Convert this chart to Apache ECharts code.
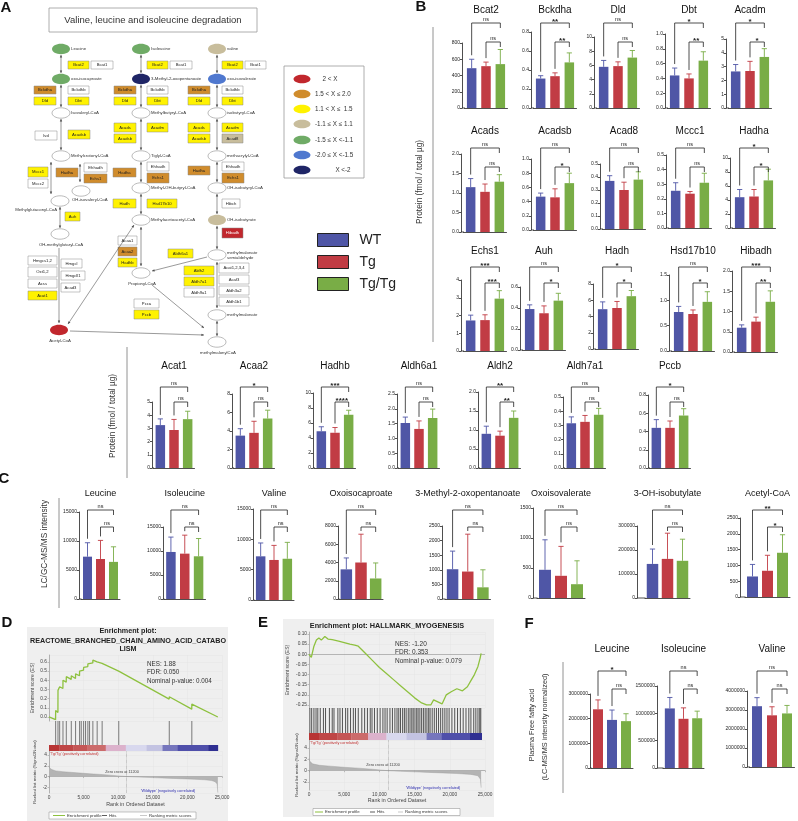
<!DOCTYPE html>
<html><head><meta charset="utf-8">
<script src="https://cdn.jsdelivr.net/npm/echarts@6/dist/echarts.min.js"></script>
<style>html,body{margin:0;padding:0;background:#fff}#c{width:798px;height:821px}</style>
</head><body><div id="c"></div>
<script>
// ================= DATA =================
const groups = ['WT', 'Tg', 'Tg/Tg'];

// Panel B, row 1
const b1Genes = ['Bcat2', 'Bckdha', 'Dld', 'Dbt', 'Acadm'];
const b1Mean = [[490, 515, 540], [0.31, 0.335, 0.48], [5.8, 5.9, 7.1], [0.44, 0.40, 0.64], [2.65, 2.68, 3.7]];
const b1Sd = [[110, 50, 180], [0.03, 0.035, 0.10], [0.9, 0.6, 1.0], [0.10, 0.06, 0.12], [0.5, 0.7, 0.6]];
const b1Max = [800, 0.8, 10, 1.0, 5];
const b1Step = [200, 0.2, 2, 0.2, 1];
const b1Sig = [['ns', 'ns'], ['**', '**'], ['ns', 'ns'], ['*', '**'], ['*', '*']];

// Panel B, row 2
const b2Genes = ['Acads', 'Acadsb', 'Acad8', 'Mccc1', 'Hadha'];
const b2Mean = [[1.15, 1.03, 1.29], [0.47, 0.46, 0.66], [0.37, 0.30, 0.38], [0.255, 0.235, 0.31], [4.4, 4.5, 6.8]];
const b2Sd = [[0.22, 0.2, 0.18], [0.05, 0.12, 0.14], [0.04, 0.06, 0.06], [0.055, 0.015, 0.065], [1.1, 1.0, 1.6]];
const b2Max = [2.0, 1.0, 0.5, 0.5, 10];
const b2Step = [0.5, 0.2, 0.1, 0.1, 2];
const b2Sig = [['ns', 'ns'], ['ns', '*'], ['ns', 'ns'], ['ns', 'ns'], ['*', '*']];

// Panel B, row 3
const b3Genes = ['Echs1', 'Auh', 'Hadh', 'Hsd17b10', 'Hibadh'];
const b3Mean = [[1.72, 1.74, 2.95], [0.39, 0.35, 0.47], [4.9, 5.05, 6.5], [0.77, 0.73, 0.97], [0.60, 0.75, 1.24]];
const b3Sd = [[0.3, 0.3, 0.45], [0.04, 0.07, 0.07], [0.9, 0.8, 0.7], [0.11, 0.08, 0.20], [0.07, 0.11, 0.27]];
const b3Max = [4, 0.6, 8, 1.5, 2.0];
const b3Step = [1, 0.2, 2, 0.5, 0.5];
const b3Sig = [['***', '***'], ['ns', '*'], ['*', '*'], ['ns', '*'], ['***', '**']];

// Panel B, row 4
const b4Genes = ['Acat1', 'Acaa2', 'Hadhb', 'Aldh6a1', 'Aldh2', 'Aldh7a1', 'Pccb'];
const b4Mean = [[3.25, 2.88, 3.7], [3.5, 3.8, 5.35], [4.9, 4.7, 7.1], [1.52, 1.32, 1.69], [0.9, 0.85, 1.32], [0.315, 0.325, 0.375], [0.44, 0.44, 0.575]];
const b4Sd = [[0.47, 0.8, 0.6], [0.75, 1.25, 0.9], [0.6, 0.7, 0.6], [0.2, 0.27, 0.3], [0.2, 0.12, 0.18], [0.045, 0.045, 0.045], [0.09, 0.075, 0.075]];
const b4Max = [5, 8, 10, 2.5, 2.0, 0.5, 0.8];
const b4Step = [1, 2, 2, 0.5, 0.5, 0.1, 0.2];
const b4Sig = [['ns', 'ns'], ['*', 'ns'], ['***', '****'], ['ns', 'ns'], ['**', '**'], ['ns', 'ns'], ['*', 'ns']];

// Panel C
const cNames = ['Leucine', 'Isoleucine', 'Valine', 'Oxoisocaproate', '3-Methyl-2-oxopentanoate', 'Oxoisovalerate', '3-OH-isobutylate', 'Acetyl-CoA'];
const cMean = [[7300, 6900, 6400], [9800, 9450, 8900], [7200, 6600, 6800], [3250, 4000, 2250], [1020, 940, 400], [470, 370, 230], [142000, 163000, 155000], [650, 830, 1400]];
const cSd = [[2400, 3200, 2600], [3100, 3850, 3700], [2200, 2400, 2700], [1250, 3100, 1700], [620, 1280, 600], [500, 490, 390], [62000, 107000, 90000], [380, 490, 570]];
const cMax = [15000, 15000, 15000, 8000, 2500, 1500, 300000, 2500];
const cStep = [5000, 5000, 5000, 2000, 500, 500, 100000, 500];
const cSig = [['ns', 'ns'], ['ns', 'ns'], ['ns', 'ns'], ['ns', 'ns'], ['ns', 'ns'], ['ns', 'ns'], ['ns', 'ns'], ['**', '*']];

// Panel F
const fNames = ['Leucine', 'Isoleucine', 'Valine'];
const fOrder = [['Tg', 'WT', 'Tg/Tg'], ['WT', 'Tg', 'Tg/Tg'], ['WT', 'Tg', 'Tg/Tg']];
const fMean = [[2380000, 1950000, 1900000], [1090000, 900000, 910000], [3200000, 2720000, 2820000]];
const fSd = [[380000, 400000, 300000], [200000, 200000, 130000], [450000, 450000, 420000]];
const fMax = [3000000, 1500000, 4000000];
const fStep = [1000000, 500000, 1000000];
const fSig = [['*', 'ns'], ['ns', 'ns'], ['ns', 'ns']];

// Panel D (GSEA)
const dEs = [[0, 0], [950, -0.03], [960, 0.07], [1290, 0.05], [1300, 0.29], [1530, 0.28], [1540, 0.33], [2010, 0.31], [2020, 0.40], [2490, 0.38], [2500, 0.44], [3210, 0.41], [3220, 0.45], [3830, 0.42], [3840, 0.47], [4410, 0.45], [4420, 0.50], [4650, 0.49], [4660, 0.52], [4990, 0.51], [5000, 0.54], [5270, 0.53], [5280, 0.56], [5610, 0.55], [5620, 0.58], [5850, 0.57], [5860, 0.60], [6330, 0.59], [6340, 0.62], [6950, 0.60], [6960, 0.61], [7670, 0.585], [7680, 0.595], [10070, 0.50], [10080, 0.505], [17370, 0.195], [17380, 0.22], [20630, 0.085], [20640, 0.14], [24400, 0.0]];
const dHits = [960, 1300, 1540, 2020, 2500, 3220, 3840, 4420, 4660, 5000, 5280, 5620, 5860, 6340, 6960, 7680, 10080, 17380, 20640];
const dMetric = [[0, 2.0], [100, 1.6], [400, 1.3], [1000, 1.05], [2000, 0.9], [4000, 0.7], [6000, 0.5], [8000, 0.35], [10000, 0.12], [11200, 0], [13000, -0.1], [15000, -0.2], [17000, -0.3], [19000, -0.4], [21000, -0.5], [22500, -0.6], [23500, -0.75], [24000, -0.95], [24300, -1.4], [24400, -3.0]];
const dStats = ['NES: 1.88', 'FDR: 0.050', 'Nominal p-value: 0.004'];

// Panel E (GSEA)
const eEs = [[0, 0], [330, -0.015], [700, 0.04], [1050, 0.07], [1400, 0.08], [1750, 0.07], [2250, 0.088], [2700, 0.075], [3300, 0.072], [4200, 0.065], [5000, 0.058], [5800, 0.05], [6500, 0.045], [7000, 0.04], [8000, 0.005], [9000, -0.03], [10000, -0.065], [11000, -0.095], [12000, -0.125], [13000, -0.155], [14000, -0.185], [15000, -0.215], [16000, -0.24], [16700, -0.25], [17300, -0.25], [17700, -0.225], [18300, -0.235], [18900, -0.245], [19500, -0.2], [20200, -0.185], [21000, -0.17], [21800, -0.18], [22500, -0.16], [23000, -0.13], [23500, -0.1], [24000, -0.06], [24300, -0.02], [24450, 0.005]];
const eHits = [120, 380, 700, 1000, 1250, 1600, 2050, 2350, 2900, 3300, 3550, 4100, 4400, 4750, 5200, 5500, 5900, 6300, 6600, 7000, 7500, 7900, 8300, 8700, 8950, 9300, 9700, 10100, 10500, 10800, 11100, 11500, 11850, 12200, 12500, 12750, 13000, 13300, 13550, 13800, 14100, 14350, 14600, 14800, 15050, 15300, 15500, 15750, 16000, 16250, 16500, 16750, 17000, 17200, 17500, 17800, 18100, 18400, 18700, 19000, 19300, 19600, 19900, 20300, 20700, 21100, 21500, 21900, 22300, 22700, 23000, 23400, 23700, 24000, 24250, 24400];
const eMetric = [[0, 2.2], [100, 1.7], [500, 1.2], [1500, 0.95], [3000, 0.8], [5000, 0.6], [7000, 0.45], [9000, 0.25], [11200, 0], [13000, -0.1], [15000, -0.2], [17000, -0.3], [19000, -0.4], [21000, -0.5], [23000, -0.65], [24000, -0.9], [24350, -1.5], [24450, -3.0]];
const eStats = ['NES: -1.20', 'FDR: 0.353', 'Nominal p-value: 0.079'];

// ================= STYLE / LAYOUT =================
const FONT = 'Liberation Sans, Arial, Helvetica, sans-serif';
const GCOL = { 'WT': '#4f56a6', 'Tg': '#c13c44', 'Tg/Tg': '#79ad46' };
const grids = [], xAxes = [], yAxes = [], series = [], graphics = [];

function gText(x, y, text, size, style, el) {
  graphics.push(Object.assign({ type: 'text', x: x, y: y, silent: true, z: 30,
    style: Object.assign({ text: text, fontSize: size, fontFamily: FONT, fill: '#222', textAlign: 'center', textVerticalAlign: 'middle', align: 'center', verticalAlign: 'middle' }, style || {}) }, el || {}));
}
function gLine(x1, y1, x2, y2, color, w, extra) {
  graphics.push({ type: 'line', silent: true, z: 25, shape: { x1, y1, x2, y2 }, style: Object.assign({ stroke: color, lineWidth: w }, extra || {}) });
}
function gRect(x, y, w, h, fill, stroke, lw, z) {
  graphics.push({ type: 'rect', silent: true, z: z || 20, shape: { x, y, width: w, height: h }, style: { fill: fill, stroke: stroke, lineWidth: lw || 0 } });
}
function decimals(step) { const s = String(step); return s.indexOf('.') >= 0 ? s.split('.')[1].length : 0; }

function addBarChart(s) {
  const gi = grids.length;
  const left = s.axisX + s.off;
  grids.push({ left: left, top: s.topY, width: s.W, height: s.botY - s.topY, outerBoundsMode: 'none', containLabel: false });
  xAxes.push({ gridIndex: gi, type: 'category', data: s.order, axisLine: { lineStyle: { color: '#222', width: 0.8 } },
    axisTick: { alignWithLabel: true, length: 2.5, lineStyle: { color: '#222', width: 0.8 } }, axisLabel: { show: false }, splitLine: { show: false } });
  const dec = decimals(s.step);
  yAxes.push({ gridIndex: gi, type: 'value', min: 0, max: s.max, interval: s.step, offset: s.off,
    axisLine: { show: true, lineStyle: { color: '#222', width: 0.8 } }, axisTick: { show: true, length: 2, lineStyle: { color: '#222', width: 0.8 } },
    axisLabel: { fontSize: 5, margin: 2, color: '#222', fontFamily: FONT, formatter: v => v.toFixed(dec) }, splitLine: { show: false } });
  groups.forEach(g => {
    series.push({ type: 'bar', name: g, xAxisIndex: gi, yAxisIndex: gi, barWidth: s.barW, barGap: '-100%', silent: true,
      data: s.order.map((o, i) => o === g ? s.mean[i] : '-'), itemStyle: { color: GCOL[g] } });
  });
  // error bars (upper SD)
  series.push({ type: 'custom', xAxisIndex: gi, yAxisIndex: gi, silent: true, clip: false, z: 4,
    data: s.order.map((o, i) => [i, s.mean[i], s.sd[i]]),
    renderItem: (p, api) => {
      const i = api.value(0), m = api.value(1), sd = api.value(2);
      const a = api.coord([i, m]), b = api.coord([i, m + sd]);
      const col = GCOL[s.order[i]];
      return { type: 'group', children: [
        { type: 'line', shape: { x1: a[0], y1: a[1], x2: b[0], y2: b[1] }, style: { stroke: col, lineWidth: 0.9 } },
        { type: 'line', shape: { x1: b[0] - 2.6, y1: b[1], x2: b[0] + 2.6, y2: b[1] }, style: { stroke: col, lineWidth: 0.9 } }
      ] };
    } });
  // significance brackets
  series.push({ type: 'custom', xAxisIndex: gi, yAxisIndex: gi, silent: true, clip: false, z: 5,
    data: [[0, 0], [1, 0]],
    renderItem: (p, api) => {
      const k = p.dataIndex, i1 = k === 0 ? 0 : 1, i2 = 2;
      const x1 = api.coord([i1, 0])[0], x2 = api.coord([i2, 0])[0];
      const yL = s.brY[k];
      const e1 = api.coord([i1, s.mean[i1] + s.sd[i1]])[1];
      const leg1 = Math.max(yL + 4, e1 - 4);
      const leg2 = yL + 5;
      const lab = s.sig[k];
      const isNs = lab === 'ns';
      const kids = [
        { type: 'polyline', shape: { points: [[x1, leg1], [x1, yL], [x2, yL], [x2, leg2]] }, style: { stroke: '#222', lineWidth: 0.8, fill: null } },
        { type: 'text', x: (x1 + x2) / 2, y: isNs ? yL - 1 : yL + 2.5, style: { text: lab, fontSize: isNs ? 5.5 : 8, fontWeight: isNs ? 'normal' : 'bold', fontFamily: FONT, fill: '#222',
          textAlign: 'center', textVerticalAlign: 'bottom', align: 'center', verticalAlign: 'bottom' } }
      ];
      if (k === 0) {
        const y0 = api.coord([0, 0])[1];
        kids.push({ type: 'line', shape: { x1: s.axisX, y1: y0, x2: left + 0.5, y2: y0 }, style: { stroke: '#222', lineWidth: 0.8 } });
      }
      return { type: 'group', children: kids };
    } });
  gText(left + s.W / 2, s.titleY, s.title, s.titleSize, { fill: '#111' });
}

function buildRow(names, orders, means, sds, maxs, steps, sigs, L) {
  names.forEach((n, j) => {
    const pick = v => Array.isArray(v) ? v[j] : v;
    addBarChart({ title: n, order: orders[j], mean: means[j], sd: sds[j], max: maxs[j], step: steps[j], sig: sigs[j],
      axisX: L.axisX[j], topY: L.topY[j], botY: pick(L.botY), off: pick(L.off), W: pick(L.W), barW: pick(L.barW),
      brY: L.brY, titleY: L.titleY, titleSize: L.titleSize });
  });
}
const same = n => Array.from({ length: n }, () => groups);

buildRow(b1Genes, same(5), b1Mean, b1Sd, b1Max, b1Step, b1Sig,
  { axisX: [462, 531, 594, 665, 726], topY: [43, 32, 37, 34, 39], botY: 108, off: 2.5, W: 43, barW: 9.5, brY: [23, 42], titleY: 10, titleSize: 10 });
buildRow(b2Genes, same(5), b2Mean, b2Sd, b2Max, b2Step, b2Sig,
  { axisX: [461, 531, 600, 666, 730], topY: [154, 159, 164, 155, 158], botY: [232, 230, 229, 228, 228], off: 2.5, W: 43, barW: 9.5, brY: [148, 167], titleY: 131, titleSize: 10 });
buildRow(b3Genes, same(5), b3Mean, b3Sd, b3Max, b3Step, b3Sig,
  { axisX: [461, 520, 593, 669, 732], topY: [280, 287, 284, 275, 271], botY: [351, 350, 349, 351, 352], off: 2.5, W: 43, barW: 9.5, brY: [267, 283], titleY: 251, titleSize: 10 });
buildRow(b4Genes, same(7), b4Mean, b4Sd, b4Max, b4Step, b4Sig,
  { axisX: [152, 232, 313, 397, 478, 563, 648], topY: [402, 394, 393, 394, 392, 397, 395], botY: 468, off: 1.5, W: 41, barW: 9.5, brY: [387, 402], titleY: 366, titleSize: 10 });
buildRow(cNames, same(8), cMean, cSd, cMax, cStep, cSig,
  { axisX: [79, 163, 253, 338, 442, 533, 637, 740], topY: [512, 527, 509, 526, 526, 508, 526, 518], botY: [599, 599, 600, 599, 599, 598, 598, 597],
    off: [2, 1, 1, 1, 3, 4, 8, 5], W: [39, 41.5, 40, 44, 45.5, 48, 45, 45], barW: [9, 9.5, 9.5, 11.5, 11.5, 12, 11.5, 11], brY: [510, 527], titleY: 494, titleSize: 9 });
buildRow(fNames, fOrder, fMean, fSd, fMax, fStep, fSig,
  { axisX: [590, 657, 747], topY: [694, 686, 691], botY: [768, 768, 767], off: [1, 6, 2.5], W: [42, 41, 45], barW: 10, brY: [671, 689], titleY: 649, titleSize: 10 });

// ---------- GSEA panels ----------
function addGsea(g) {
  const W = g.R - g.L;
  const hid = { axisLine: { show: false }, axisTick: { show: false }, axisLabel: { show: false }, splitLine: { show: false } };
  const sl = { show: true, lineStyle: { color: '#e4e4e4', width: 0.5 } };
  // ES plot
  let gi = grids.length;
  grids.push({ left: g.L, top: g.esTop, width: W, height: g.esBot - g.esTop, show: true, backgroundColor: '#fff', borderColor: '#8a8a8a', borderWidth: 0.6, outerBoundsMode: 'none' });
  xAxes.push(Object.assign({ gridIndex: gi, type: 'value', min: 0, max: 25000, interval: 5000 }, hid, { splitLine: sl }));
  yAxes.push({ gridIndex: gi, type: 'value', min: g.esMin, max: g.esMax, splitNumber: 7,
    axisLine: { show: true, lineStyle: { color: '#8a8a8a', width: 0.6 } }, axisTick: { show: true, length: 1.5, lineStyle: { color: '#8a8a8a', width: 0.5 } },
    axisLabel: { fontSize: 4.8, color: '#444', margin: 2, showMinLabel: false, showMaxLabel: false, formatter: g.esFmt }, splitLine: sl,
    name: 'Enrichment score (ES)', nameLocation: 'middle', nameGap: g.esNameGap, nameTextStyle: { fontSize: 5, color: '#444' }, nameMoveOverlap: false });
  const esSeries = { type: 'line', xAxisIndex: gi, yAxisIndex: gi, data: g.es, showSymbol: false, symbol: 'none', silent: true, z: 5,
    lineStyle: { color: '#8ec13f', width: 1.3 } };
  if (g.zeroLine) esSeries.markLine = { silent: true, symbol: 'none', label: { show: false }, lineStyle: { color: '#909090', width: 0.6, type: 'solid' }, data: [{ yAxis: 0 }] };
  series.push(esSeries);
  // hits
  gi = grids.length;
  grids.push({ left: g.L, top: g.esBot, width: W, height: g.hitBot - g.esBot, show: true, backgroundColor: '#fff', borderColor: '#8a8a8a', borderWidth: 0.6, outerBoundsMode: 'none' });
  xAxes.push(Object.assign({ gridIndex: gi, type: 'value', min: 0, max: 25000 }, hid));
  yAxes.push(Object.assign({ gridIndex: gi, type: 'value', min: 0, max: 1 }, hid));
  series.push({ type: 'custom', xAxisIndex: gi, yAxisIndex: gi, silent: true, data: g.hits.map(r => [r, 0]),
    renderItem: (p, api) => { const a = api.coord([api.value(0), 0]), b = api.coord([api.value(0), 1]);
      return { type: 'line', shape: { x1: a[0], y1: a[1], x2: b[0], y2: b[1] }, style: { stroke: '#2a2a2a', lineWidth: g.hitW } }; } });
  // colour bar
  gi = grids.length;
  grids.push({ left: g.L, top: g.hitBot, width: W, height: g.cbBot - g.hitBot, show: true, backgroundColor: '#fff', borderColor: '#8a8a8a', borderWidth: 0.4, outerBoundsMode: 'none' });
  xAxes.push(Object.assign({ gridIndex: gi, type: 'value', min: 0, max: 25000 }, hid));
  yAxes.push(Object.assign({ gridIndex: gi, type: 'value', min: 0, max: 1 }, hid));
  series.push({ type: 'custom', xAxisIndex: gi, yAxisIndex: gi, silent: true, data: g.bar.map(b => [b[0], b[1]]),
    renderItem: (p, api) => { const a = api.coord([api.value(0), 1]), b = api.coord([api.value(1), 0]);
      return { type: 'rect', shape: { x: a[0], y: a[1], width: b[0] - a[0] + 0.3, height: b[1] - a[1] }, style: { fill: g.bar[p.dataIndex][2] } }; } });
  // ranked metric
  gi = grids.length;
  grids.push({ left: g.L, top: g.cbBot, width: W, height: g.metBot - g.cbBot, show: true, backgroundColor: '#fff', borderColor: '#8a8a8a', borderWidth: 0.6, outerBoundsMode: 'none' });
  xAxes.push({ gridIndex: gi, type: 'value', min: 0, max: 25000, interval: 5000,
    axisLine: { show: true, lineStyle: { color: '#8a8a8a', width: 0.6 } }, axisTick: { show: true, length: 1.5, lineStyle: { color: '#8a8a8a', width: 0.5 } },
    axisLabel: { fontSize: 4.8, color: '#444', margin: 2, formatter: v => v === 0 ? '0' : v.toLocaleString('en-US') }, splitLine: sl,
    name: 'Rank in Ordered Dataset', nameLocation: 'middle', nameGap: g.xNameGap, nameTextStyle: { fontSize: 5.3, color: '#444' }, nameMoveOverlap: false });
  yAxes.push({ gridIndex: gi, type: 'value', min: g.metMin, max: g.metMax, splitNumber: 4,
    axisLine: { show: true, lineStyle: { color: '#8a8a8a', width: 0.6 } }, axisTick: { show: true, length: 1.5, lineStyle: { color: '#8a8a8a', width: 0.5 } },
    axisLabel: { fontSize: 4.8, color: '#444', margin: 2, showMinLabel: false, showMaxLabel: false,
      formatter: v => { const k = Math.round(v); return (Math.abs(v - k) < 1e-6 && k % 2 === 0) ? String(k) : ''; } }, splitLine: sl,
    name: 'Ranked list metric (Signal2Noise)', nameLocation: 'middle', nameGap: g.metNameGap, nameTextStyle: { fontSize: 4.3, color: '#444' }, nameMoveOverlap: false });
  series.push({ type: 'line', xAxisIndex: gi, yAxisIndex: gi, data: g.metric, showSymbol: false, symbol: 'none', silent: true,
    lineStyle: { color: '#9a9a9a', width: 0.4 }, areaStyle: { color: '#b4b4b4', opacity: 1 },
    markLine: { silent: true, symbol: 'none', label: { show: false }, lineStyle: { color: '#8a8a8a', width: 0.6, type: 'dotted' }, data: [{ xAxis: 11200 }] } });
}

const dBar = [[0, 1500, '#b83535'], [1500, 3500, '#bf4646'], [3500, 5500, '#c55656'], [5500, 8200, '#cc6b6b'], [8200, 11100, '#dcb2cc'], [11100, 14100, '#d8d8ee'], [14100, 16400, '#c3c3e2'], [16400, 18600, '#7676bd'], [18600, 23000, '#4f4faa'], [23000, 24400, '#2f2f92']];
const eBar = [[0, 1500, '#b83535'], [1500, 4000, '#bf4646'], [4000, 6000, '#c55656'], [6000, 8400, '#cc6b6b'], [8400, 11000, '#dcb2cc'], [11000, 13850, '#d8d8ee'], [13850, 16700, '#c3c3e2'], [16700, 18830, '#7676bd'], [18830, 22870, '#4f4faa'], [22870, 24530, '#2f2f92']];

// backgrounds for GSEA
gRect(27, 627, 201, 194, '#efefef', null, 0, 0);
gRect(283, 619, 211, 198, '#efefef', null, 0, 0);
graphics.forEach(e => e.z = 0);

addGsea({ L: 49, R: 222, esTop: 655, esBot: 721, hitBot: 745, cbBot: 751, metBot: 793, esMin: -0.044, esMax: 0.676, metMin: -3.06, metMax: 4.75,
  es: dEs, hits: dHits, metric: dMetric, bar: dBar, zeroLine: false, esNameGap: 14, metNameGap: 12, xNameGap: 9, hitW: 0.6,
  esFmt: v => { const k = Math.round(v * 10); return Math.abs(v * 10 - k) < 1e-6 ? (k / 10).toFixed(1) : ''; } });
addGsea({ L: 309, R: 485, esTop: 632, esBot: 708, hitBot: 733, cbBot: 740, metBot: 790, esMin: -0.265, esMax: 0.11, metMin: -3.4, metMax: 5.4,
  es: eEs, hits: eHits, metric: eMetric, bar: eBar, zeroLine: true, esNameGap: 19, metNameGap: 10, xNameGap: 8, hitW: 0.8,
  esFmt: v => { const k = Math.round(v * 20); return Math.abs(v * 20 - k) < 1e-6 ? (k / 20).toFixed(2) : ''; } });

// GSEA text
gText(128, 631, 'Enrichment plot:', 7.2, { fontWeight: 'bold' });
gText(128, 641, 'REACTOME_BRANCHED_CHAIN_AMINO_ACID_CATABO', 7.2, { fontWeight: 'bold' });
gText(128, 649.5, 'LISM', 7.2, { fontWeight: 'bold' });
dStats.forEach((t, i) => gText(147, 664 + i * 8.5, t, 6.3, { textAlign: 'left', align: 'left', fill: '#333' }));
gText(50, 753.5, "'Tg/Tg' (positively correlated)", 3.8, { textAlign: 'left', align: 'left', fill: '#c03030' });
gText(122, 772, 'Zero cross at 11200', 3.8, { fill: '#444' });
gText(168, 790.5, "'Wildtype' (negatively correlated)", 3.8, { fill: '#3030b0' });

gText(387, 626, 'Enrichment plot: HALLMARK_MYOGENESIS', 7.3, { fontWeight: 'bold' });
eStats.forEach((t, i) => gText(395, 644 + i * 8.5, t, 6.5, { textAlign: 'left', align: 'left', fill: '#333' }));
gText(310, 742.5, "'Tg/Tg' (positively correlated)", 3.8, { textAlign: 'left', align: 'left', fill: '#c03030' });
gText(383, 765, 'Zero cross at 11200', 3.8, { fill: '#444' });
gText(433, 788, "'Wildtype' (negatively correlated)", 3.8, { fill: '#3030b0' });

function gseaLegend(x, y, w, items) {
  gRect(x, y, w, 7, '#fff', '#888', 0.5, 20);
  items.forEach(it => {
    gLine(it[0], y + 3.5, it[1], y + 3.5, it[2], it[3]);
    gText(it[1] + 2, y + 3.7, it[4], 4.3, { textAlign: 'left', align: 'left', fill: '#333' });
  });
}
gseaLegend(49, 812, 147, [[53, 65, '#8ec13f', 1, 'Enrichment profile'], [102, 107, '#333', 0.8, 'Hits'], [140, 147, '#bbb', 0.8, 'Ranking metric scores']]);
gseaLegend(313, 808.5, 147, [[315, 323, '#8ec13f', 1, 'Enrichment profile'], [370, 375, '#333', 0.8, 'Hits'], [398, 403, '#bbb', 0.8, 'Ranking metric scores']]);

// ---------- Axis titles / separators ----------
gText(420, 182, 'Protein (fmol / total µg)', 8.3, { fill: '#333' }, { rotation: Math.PI / 2 });
gText(113, 416, 'Protein (fmol / total µg)', 8.3, { fill: '#333' }, { rotation: Math.PI / 2 });
gText(45, 544, 'LC/GC-MS/MS intensity', 8.3, { fill: '#333' }, { rotation: Math.PI / 2 });
gText(532, 725, 'Plasma Free fatty acid', 7.3, { fill: '#333' }, { rotation: Math.PI / 2 });
gText(545, 727, '(LC-MS/MS intensity normalized)', 7.3, { fill: '#333' }, { rotation: Math.PI / 2 });
gLine(433, 27, 433, 342, '#777', 0.8);
gLine(127, 347, 127, 478, '#777', 0.8);
gLine(59, 498, 59, 608, '#777', 0.8);
gLine(563, 662, 563, 793, '#777', 0.8);

// panel letters
[['A', 6, 8], ['B', 421, 7], ['C', 4, 479], ['D', 7, 623], ['E', 263, 623], ['F', 529, 624]].forEach(p => gText(p[1], p[2], p[0], 15, { fontWeight: 'bold', fill: '#111' }));

// ---------- Panel A pathway diagram ----------
const ACOL = { Y: '#fff200', O: '#d08c2c', B: '#c8bd9c', R: '#c1272d', W: '#ffffff', G: '#6fab66', N: '#1f2566', L: '#4f78cf' };
gRect(49, 8, 208, 24, '#fff', '#999', 0.8, 20);
gText(153, 20, 'Valine, leucine and isoleucine degradation', 9.5, { fill: '#333' });

const aBoxes = [
  [68, 61, 89, 69, 'Bcat2', 'Y'], [91, 61, 113, 69, 'Bcat1', 'W'],
  [34, 86, 56, 94, 'Bckdha', 'O'], [34, 97, 56, 105, 'Dld', 'Y'], [68, 86, 89, 94, 'Bckdhb', 'W'], [68, 97, 89, 105, 'Dbt', 'Y'],
  [35, 131, 57, 140, 'Ivd', 'W'], [68, 130, 90, 139, 'Acadsb', 'Y'],
  [28, 167, 48, 177, 'Mccc1', 'Y'], [28, 179, 48, 188, 'Mccc2', 'W'],
  [56, 168, 78, 177, 'Hadha', 'O'], [84, 163, 107, 172, 'Ehhadh', 'W'], [84, 174, 107, 183, 'Echs1', 'O'],
  [65, 212, 80, 221, 'Auh', 'Y'],
  [28, 256, 57, 265, 'Hmgcs1,2', 'W'], [28, 267, 57, 277, 'Oxt1,2', 'W'], [28, 279, 57, 288, 'Acss', 'W'], [28, 291, 57, 300, 'Acat1', 'Y'],
  [61, 259, 82, 268, 'Hmgcl', 'W'], [61, 271, 85, 280, 'Hmgcll1', 'W'], [61, 283, 80, 292, 'Acad3', 'W'],
  [147, 61, 168, 69, 'Bcat2', 'Y'], [170, 61, 192, 69, 'Bcat1', 'W'],
  [114, 86, 136, 94, 'Bckdha', 'O'], [114, 97, 136, 105, 'Dld', 'Y'], [147, 86, 168, 94, 'Bckdhb', 'W'], [147, 97, 168, 105, 'Dbt', 'Y'],
  [114, 123, 136, 132, 'Acads', 'Y'], [114, 134, 136, 143, 'Acadsb', 'Y'], [147, 123, 168, 132, 'Acadm', 'Y'],
  [113, 168, 136, 177, 'Hadha', 'O'], [147, 162, 169, 171, 'Ehhadh', 'W'], [147, 173, 169, 183, 'Echs1', 'O'],
  [113, 199, 136, 208, 'Hadh', 'Y'], [147, 199, 177, 208, 'Hsd17b10', 'Y'],
  [118, 236, 137, 245, 'Acaa1', 'W'], [118, 247, 137, 256, 'Acaa2', 'O'], [118, 258, 137, 267, 'Hadhb', 'Y'],
  [134, 299, 159, 308, 'Pcca', 'W'], [134, 310, 159, 319, 'Pccb', 'Y'],
  [222, 61, 243, 69, 'Bcat2', 'Y'], [245, 61, 266, 69, 'Bcat1', 'W'],
  [188, 86, 210, 94, 'Bckdha', 'O'], [188, 97, 210, 105, 'Dld', 'Y'], [222, 86, 243, 94, 'Bckdhb', 'W'], [222, 97, 243, 105, 'Dbt', 'Y'],
  [188, 123, 210, 132, 'Acads', 'Y'], [188, 134, 210, 143, 'Acadsb', 'Y'], [222, 123, 243, 132, 'Acadm', 'Y'], [222, 134, 243, 143, 'Acad8', 'B'],
  [188, 166, 210, 175, 'Hadha', 'O'], [222, 162, 244, 171, 'Ehhadh', 'W'], [222, 173, 244, 183, 'Echs1', 'O'],
  [222, 199, 240, 208, 'Hibch', 'W'], [222, 228, 243, 238, 'Hibadh', 'R'],
  [168, 249, 193, 258, 'Aldh6a1', 'Y'],
  [184, 266, 214, 275, 'Aldh2', 'Y'], [184, 277, 214, 286, 'Aldh7a1', 'Y'], [184, 288, 214, 297, 'Aldh9a1', 'W'],
  [219, 263, 249, 273, 'Acat1,2,3,4', 'W'], [219, 275, 249, 284, 'Acaf3', 'W'], [219, 286, 249, 295, 'Aldh3a2', 'W'], [219, 297, 249, 306, 'Aldh1b1', 'W']
];
aBoxes.forEach(b => {
  gRect(b[0], b[1], b[2] - b[0], b[3] - b[1], ACOL[b[5]], '#8a8a8a', 0.5, 20);
  gText((b[0] + b[2]) / 2, (b[1] + b[3]) / 2 + 0.3, b[4], 4.2, { fill: b[5] === 'R' ? '#fff' : '#222' });
});
const aNodes = [
  [61, 49, 'G', 'Leucine', 'r'], [61, 79, 'G', 'oxo-isocaproate', 'r'], [61, 113, 'W', 'Isovaleryl-CoA', 'r'], [61, 156, 'W', 'Methylcrotonyl-CoA', 'r'],
  [81, 191, 'W', '', ''], [60, 201, 'W', '', ''], [60, 234, 'W', 'OH-methylglutaryl-CoA', 'b'], [59, 330, 'R', 'Acetyl-CoA', 'b'],
  [141, 49, 'G', 'Isoleucine', 'r'], [141, 79, 'N', '3-Methyl-2-oxopentanoate', 'r'], [141, 113, 'W', 'Methylbutyryl-CoA', 'r'], [141, 156, 'W', 'Tiglyl-CoA', 'r'],
  [141, 188, 'W', 'Methyl-OH-butyryl-CoA', 'r'], [141, 220, 'W', 'Methylacetoacetyl-CoA', 'r'], [141, 273, 'W', 'Propionyl-CoA', 'b'],
  [217, 49, 'B', 'valine', 'r'], [217, 79, 'L', 'oxo-isovalerate', 'r'], [217, 113, 'W', 'isobutyryl-CoA', 'r'], [217, 156, 'W', 'methacrylyl-CoA', 'r'],
  [217, 188, 'W', 'OH-isobutyryl-CoA', 'r'], [217, 220, 'B', 'OH-isobutyrate', 'r'], [217, 255, 'W', 'methylmalonate\nsemialdehyde', 'r'],
  [217, 315, 'W', 'methylmalonate', 'r'], [217, 342, 'W', 'methylmalonylCoA', 'b']
];
aNodes.forEach(n => {
  graphics.push({ type: 'ellipse', silent: true, z: 21, shape: { cx: n[0], cy: n[1], rx: 9, ry: 5.2 }, style: { fill: ACOL[n[2]], stroke: n[2] === 'W' ? '#777' : null, lineWidth: 0.5 } });
  if (n[4] === 'r') gText(n[0] + 10, n[1], n[3], 4.3, { textAlign: 'left', align: 'left', fill: '#333', lineHeight: 5 });
  if (n[4] === 'b') gText(n[0] + 1, n[1] + 10.5, n[3], 4.3, { fill: '#333' });
});
gText(72, 200, 'OH-isovaleryl-CoA', 4.3, { textAlign: 'left', align: 'left', fill: '#333' });
gText(57, 210, 'Methylglutaconyl-CoA', 4.3, { textAlign: 'right', align: 'right', fill: '#333' });

function head(x, y, dx, dy) {
  const L = Math.hypot(dx, dy), ux = dx / L, uy = dy / L, s = 2.6, w = 1.2;
  graphics.push({ type: 'polygon', silent: true, z: 22, shape: { points: [[x, y], [x - ux * s - uy * w, y - uy * s + ux * w], [x - ux * s + uy * w, y - uy * s - ux * w]] }, style: { fill: '#444' } });
}
const aArrows = [
  [61, 55, 61, 73, 1], [61, 85, 61, 107, 1], [61, 119, 61, 150, 1], [51, 162, 51, 194, 1], [80, 164, 80, 182, 1], [60, 207, 60, 228, 1], [59, 248, 59, 323, 0],
  [141, 55, 141, 73, 1], [141, 85, 141, 107, 1], [141, 119, 141, 150, 1], [141, 162, 141, 182, 1], [141, 194, 141, 214, 1], [141, 227, 141, 266, 1],
  [217, 55, 217, 73, 1], [217, 85, 217, 107, 1], [217, 119, 217, 150, 1], [217, 162, 217, 182, 1], [217, 194, 217, 214, 1], [217, 226, 217, 249, 1], [217, 262, 217, 308, 1], [217, 321, 217, 336, 1],
  [207, 257, 152, 271, 0], [152, 285, 204, 328, 0], [70, 331, 204, 335, 0], [68, 324, 134, 225, 1]
];
aArrows.forEach(a => {
  gLine(a[0], a[1], a[2], a[3], '#555', 0.6);
  head(a[2], a[3], a[2] - a[0], a[3] - a[1]);
  if (a[4]) head(a[0], a[1], a[0] - a[2], a[1] - a[3]);
});

// colour key
gRect(284, 66, 80, 112, null, '#999', 0.8, 20);
const keyCols = ['R', 'O', 'Y', 'B', 'G', 'L', 'N'];
const keyLabels = ['2 < X', '1.5 < X ≤ 2.0', '1.1 < X ≤  1.5', '-1.1 ≤ X ≤ 1.1', '-1.5 ≤ X <-1.1', '-2.0 ≤ X <-1.5', 'X <-2'];
const keyY = [79, 94, 109, 124, 140, 155, 170];
keyCols.forEach((c, i) => {
  graphics.push({ type: 'ellipse', silent: true, z: 21, shape: { cx: 302, cy: keyY[i], rx: 8.5, ry: 4.3 }, style: { fill: ACOL[c] } });
  if (i === 0) gText(330, keyY[i], keyLabels[i], 6.3, { fill: '#333' });
  else if (i === 6) gText(343, keyY[i], keyLabels[i], 6.3, { fill: '#333' });
  else gText(315, keyY[i], keyLabels[i], 6.3, { textAlign: 'left', align: 'left', fill: '#333' });
});

// ================= CHART =================
const chart = echarts.init(document.getElementById('c'), null, { renderer: 'canvas', width: 798, height: 821 });
chart.setOption({
  animation: false,
  backgroundColor: '#fff',
  textStyle: { fontFamily: FONT },
  legend: { data: groups, orient: 'vertical', left: 317, top: 233, itemWidth: 31, itemHeight: 13, itemGap: 8, icon: 'rect', selectedMode: false, padding: 0,
    itemStyle: { borderColor: '#222', borderWidth: 1 }, textStyle: { fontSize: 14, color: '#222', fontFamily: FONT, padding: [0, 0, 0, 6] } },
  grid: grids, xAxis: xAxes, yAxis: yAxes, series: series,
  graphic: { elements: graphics }
});
</script></body></html>
